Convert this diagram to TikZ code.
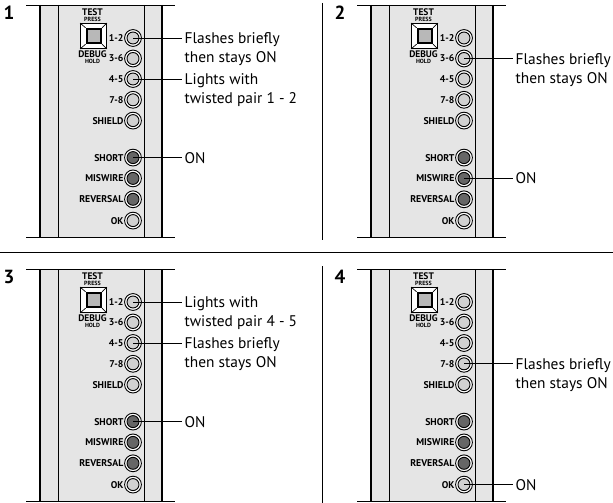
\documentclass[tikz,border=0pt]{standalone}
\usepackage{fontspec}
\setmainfont{PT Sans}
\usetikzlibrary{positioning}

\definecolor{panelgray}{gray}{0.9}
\definecolor{ledlight}{gray}{0.82}
\definecolor{leddark}{gray}{0.4}
\definecolor{keygray}{gray}{0.72}

\tikzset{
  rule/.style={line width=0.9pt},
  rimline/.style={line width=1.6pt},
  seam/.style={line width=0.7pt},
  lead/.style={line width=0.9pt},
  ring/.style={line width=0.9pt, fill=white},
  led/.style={circle, draw, line width=0.9pt, minimum size=12pt, inner sep=0pt},
  ledtag/.style={font=\bfseries\fontsize{9.8}{11}\selectfont, inner sep=0pt, anchor=east},
  keytag/.style={font=\bfseries\fontsize{9.5}{11}\selectfont, inner sep=0pt},
  keysub/.style={font=\bfseries\fontsize{6}{7}\selectfont, inner sep=0pt},
  numlabel/.style={font=\bfseries\fontsize{19}{21}\selectfont, inner sep=0pt},
  note/.style={font=\fontsize{15.4}{19}\selectfont, inner sep=2.5pt, anchor=west,
    text height=11pt, text depth=0pt},
}

% one tester panel: #1 name, #2 number, #3 x shift, #4 y shift
\newcommand\ledpanel[4]{%
\begin{scope}[shift={(#3,#4)}]
  \node[numlabel] (#1-num) at (9,13) {#2};
  \fill[panelgray] (40,5) rectangle (162,237);
  \draw[rule] (26,5) -- (175,5) (26,237) -- (175,237);
  \draw[rimline] (40,5) -- (40,237) (162,5) -- (162,237);
  \draw[seam] (58,5) -- (58,237) (144,5) -- (144,237);
  % push button
  \node[draw, line width=0.9pt, fill=white, minimum width=26pt, minimum height=25pt,
    inner sep=0pt] (#1-btn) at (93.5,36) {};
  \node[draw, line width=2.4pt, fill=keygray, minimum size=14pt, inner sep=0pt]
    (#1-key) at (93.8,36) {};
  \foreach \c in {north west, north east, south west, south east}
    \draw[line width=0.7pt] (#1-btn.\c) -- (#1-key.\c);
  \node[keytag] (#1-test) at (92.5,12.6) {TEST};
  \node[keysub] (#1-press) at (92.5,19.8) {PRESS};
  \node[keytag] (#1-debug) at (92.5,54.3) {DEBUG};
  \node[keysub] (#1-hold) at (92.5,61) {HOLD};
  % indicator lamps
  \foreach \k/\y/\t/\f in {12/38/1-2/ledlight, 36/58.5/3-6/ledlight,
      45/79/4-5/ledlight, 78/99.8/7-8/ledlight, sh/120.6/SHIELD/ledlight,
      st/157.6/SHORT/leddark, mw/178.4/MISWIRE/leddark,
      rv/199.3/REVERSAL/leddark, ok/220.6/OK/ledlight}{
    \draw[ring] (133,\y) circle (8.4);
    \node[led, fill=\f] (#1-\k) at (133,\y) {};
    \node[ledtag] (#1-\k-tag) at (123.6,\y) {\t};
  }
\end{scope}}

% connector to a two line note: #1 lamp, #2 note name, #3 and #4 lines
\newcommand\callout[4]{%
  \node[note] (#2) at ([xshift=49pt]#1.center) {#3};
  \node[note] (#2-b) at ([yshift=-19pt]#2.west) {#4};
  \draw[lead] (#1.center) -- (#2.west);
}
\newcommand\calloutshort[3]{%
  \node[note] (#2) at ([xshift=49pt]#1.center) {#3};
  \draw[lead] (#1.center) -- (#2.west);
}

\begin{document}
\begin{tikzpicture}[x=1pt,y=-1pt]
  \useasboundingbox (0,0) rectangle (613,503);

  % separators between the four steps
  \draw[rule] (0,252.8) -- (613,252.8);
  \draw[rule] (322,3) -- (322,240) (322,266) -- (322,503);

  \ledpanel{p1}{1}{0}{0}
  \ledpanel{p2}{2}{331}{0}
  \ledpanel{p3}{3}{0}{264}
  \ledpanel{p4}{4}{331}{264}

  % step 1
  \callout{p1-12}{n1a}{Flashes briefly}{then stays ON}
  \callout{p1-45}{n1b}{Lights with}{twisted pair 1 - 2}
  \calloutshort{p1-st}{n1c}{ON}
  % step 2
  \callout{p2-36}{n2a}{Flashes briefly}{then stays ON}
  \calloutshort{p2-mw}{n2b}{ON}
  % step 3
  \callout{p3-12}{n3a}{Lights with}{twisted pair 4 - 5}
  \callout{p3-45}{n3b}{Flashes briefly}{then stays ON}
  \calloutshort{p3-st}{n3c}{ON}
  % step 4
  \callout{p4-78}{n4a}{Flashes briefly}{then stays ON}
  \calloutshort{p4-ok}{n4b}{ON}

\end{tikzpicture}
\end{document}
